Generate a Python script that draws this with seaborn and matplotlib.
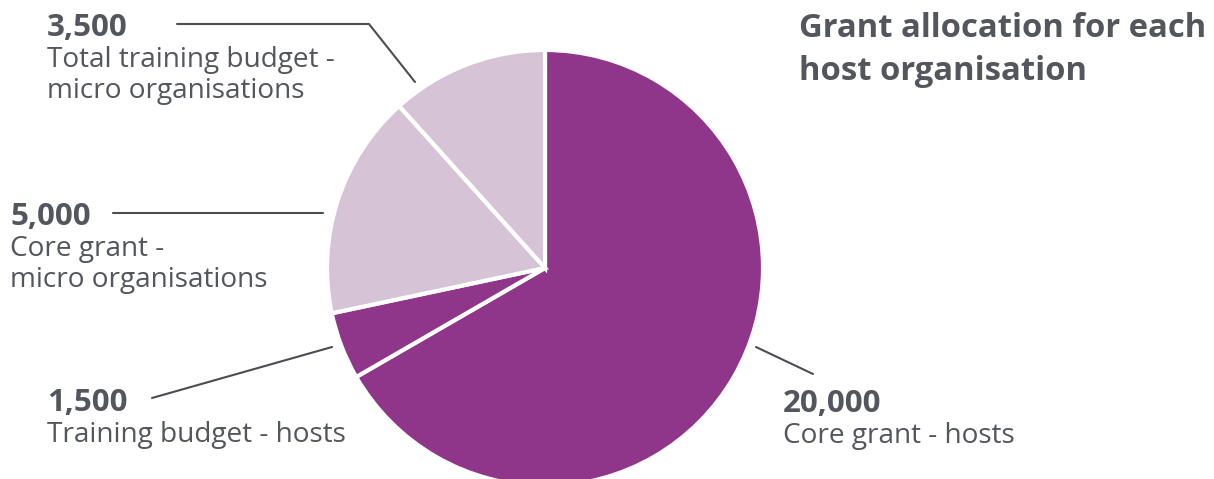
import matplotlib
matplotlib.use("Agg")
import matplotlib.pyplot as plt
import seaborn as sns

# slice values, clockwise from 12 o'clock
values = [20000, 1500, 5000, 3500]
labels = [["Core grant - hosts"], ["Training budget - hosts"],
          ["Core grant -", "micro organisations"],
          ["Total training budget -", "micro organisations"]]
value_text = ["20,000", "1,500", "5,000", "3,500"]
title = ["Grant allocation for each", "host organisation"]

dark = "#8f358a"
light = "#d6c3d6"
colors = [dark, dark, light, light]
grey = "#53565c"

sns.set_theme(style="white")
plt.rcParams["font.family"] = ["Open Sans", "DejaVu Sans"]

W, H = 1214, 479
fig = plt.figure(figsize=(W / 100, H / 100), dpi=100)
ax = fig.add_axes([0, 0, 1, 1])

# work in pixel coords, y measured from the top
def Y(y):
    return H - y

ax.pie(values, colors=colors, startangle=90, counterclock=False,
       center=(545, Y(268)), radius=218,
       wedgeprops=dict(edgecolor="white", linewidth=3))
ax.set_xlim(0, W)
ax.set_ylim(0, H)
ax.set_aspect("equal")
ax.axis("off")

# leader lines
lc = "#4a4d52"
ax.plot([177, 369, 415], [Y(24), Y(24), Y(82)], color=lc, lw=1.5)
ax.plot([113, 323], [Y(213), Y(213)], color=lc, lw=1.5)
ax.plot([152, 332], [Y(398), Y(347)], color=lc, lw=1.5)
ax.plot([756, 813], [Y(347), Y(374)], color=lc, lw=1.5)

# labels: (x, baseline of number) per slice
pos = [(783, 412), (47, 411), (10, 225), (47, 36)]
for (x, y), num, lines in zip(pos, value_text, labels):
    ax.text(x, Y(y), num, fontsize=22.5, fontweight="bold", color=grey,
            va="baseline", ha="left")
    for i, line in enumerate(lines):
        ax.text(x, Y(y + 31 * (i + 1)), line, fontsize=20.2, color=grey,
                va="baseline", ha="left")

for i, line in enumerate(title):
    ax.text(799, Y(37 + 43 * i), line, fontsize=23.6, fontweight="bold",
            color=grey, va="baseline", ha="left")

fig.savefig("out.png", dpi=100)
